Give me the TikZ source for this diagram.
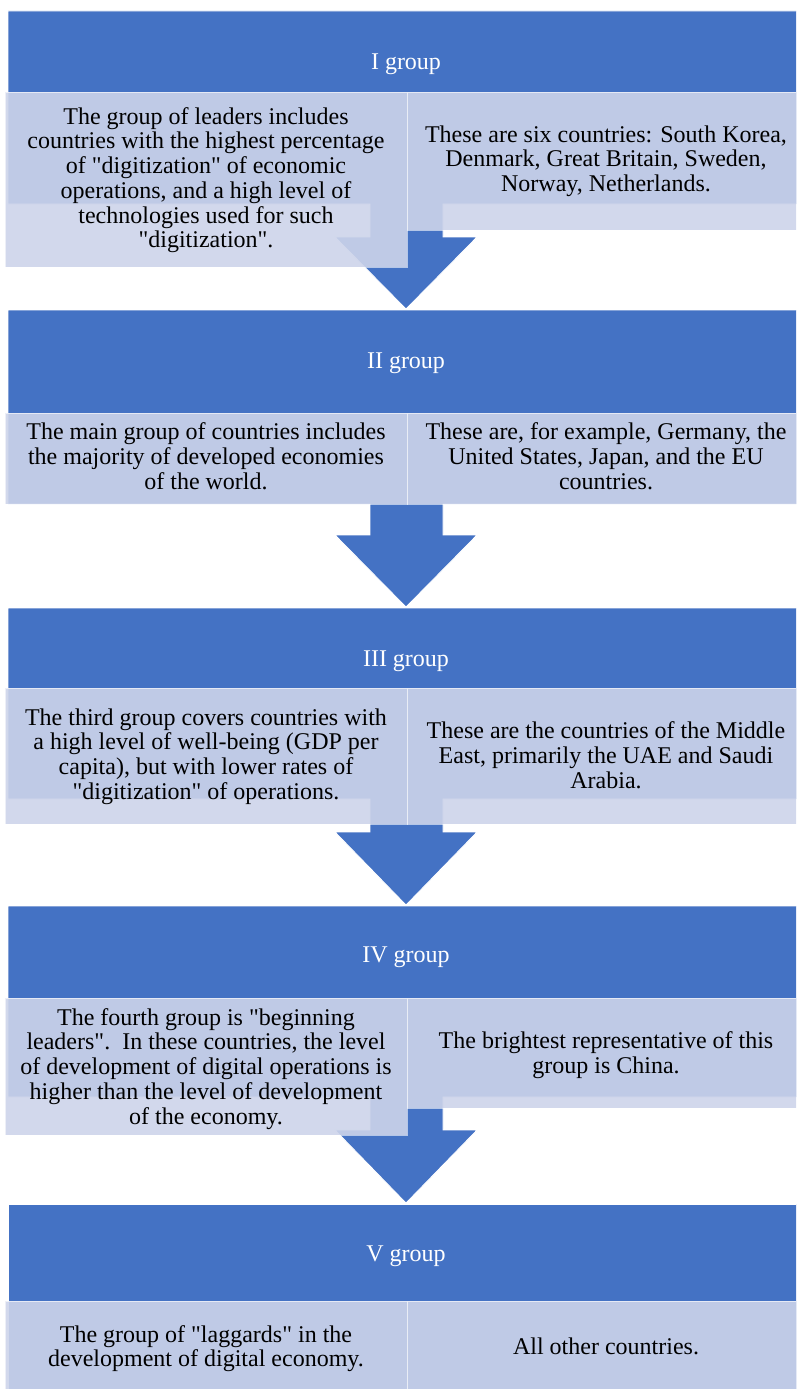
\documentclass[tikz,border=0pt]{standalone}
\usepackage{fontspec}
\setmainfont{Liberation Serif}[Ligatures=TeXOff]
\definecolor{hdrblue}{HTML}{4472C4}
\definecolor{cellfill}{HTML}{CDD4EA}
\newcommand{\bodysize}{\fontsize{24}{24.7}\selectfont}
% blue band of one group: header bar running into a down arrow
% #1 top, #2 bottom of the bar, #3 top of the arrow head, #4 tip
\newcommand{\flowshape}[4]{%
  \draw[flow] (8,#1) -- (806,#1) -- (806,#2) -- (443,#2) -- (443,#3)
    -- (477,#3) -- (406,#4) -- (335,#3) -- (370,#3) -- (370,#2)
    -- (8,#2) -- cycle;}

\begin{document}
\begin{tikzpicture}[x=1pt,y=-1pt,
  flow/.style={fill=hdrblue, draw=white, line width=0.8pt},
  cell/.style={rectangle, anchor=north west, inner sep=0, outer sep=0,
    fill=cellfill, fill opacity=0.9, draw=white, draw opacity=0.6,
    line width=0.8pt, minimum width=402},
  cellR/.style={cell, minimum width=400},
  celltext/.style={anchor=north, inner sep=0, align=center,
    font=\bodysize, text=black},
  headtext/.style={anchor=base, inner sep=0, font=\bodysize, text=white}]
\useasboundingbox (0,0) rectangle (796,1389);
\clip (0,0) rectangle (796,1389);

% blue bands with their arrows
\flowshape{11}{204}{237}{309}
\flowshape{310}{504}{535}{607}
\flowshape{608}{799}{832}{905}
\flowshape{906}{1097}{1130}{1203}
\draw[flow] (8,1204) rectangle (806,1400);

% group titles
\node[headtext] (h1) at (406,69.3) {I group};
\node[headtext] (h2) at (406,368) {II group};
\node[headtext] (h3) at (406,666) {III group};
\node[headtext] (h4) at (406,962) {IV group};
\node[headtext] (h5) at (406,1261.5) {V group};

% translucent cells
\node[cell, minimum height=175] (c1l) at (5,92) {};
\node[cellR, minimum height=138] (c1r) at (407,92) {};
\node[cell, minimum height=91] (c2l) at (5,413) {};
\node[cellR, minimum height=91] (c2r) at (407,413) {};
\node[cell, minimum height=136] (c3l) at (5,688) {};
\node[cellR, minimum height=136] (c3r) at (407,688) {};
\node[cell, minimum height=137] (c4l) at (5,998) {};
\node[cellR, minimum height=110] (c4r) at (407,998) {};
\node[cell, minimum height=100] (c5l) at (5,1301) {};
\node[cellR, minimum height=100] (c5r) at (407,1301) {};

% cell texts (placed by the baseline of the first line)
\node[celltext] (t1l) at (206,124-17.29) {\strut The group of leaders includes\\
  countries with the highest percentage\\ of "digitization" of economic\\
  operations, and a high level of\\ technologies used for such\\ "digitization".};
\node[celltext] (t1r) at (606,142-17.29) {\strut These are six countries: South Korea,\\
  Denmark, Great Britain, Sweden,\\ Norway, Netherlands.};
\node[celltext] (t2l) at (206,439.5-17.29) {\strut The main group of countries includes\\
  the majority of developed economies\\ of the world.};
\node[celltext] (t2r) at (606,439.5-17.29) {\strut These are, for example, Germany, the\\
  United States, Japan, and the EU\\ countries.};
\node[celltext] (t3l) at (206,725-17.29) {\strut The third group covers countries with\\
  a high level of well-being (GDP per\\ capita), but with lower rates of\\
  "digitization" of operations.};
\node[celltext] (t3r) at (606,738.5-17.29) {\strut These are the countries of the Middle\\
  East, primarily the UAE and Saudi\\ Arabia.};
\node[celltext] (t4l) at (206,1025-17.29) {\strut The fourth group is "beginning\\
  leaders".\ \ In these countries, the level\\ of development of digital operations is\\
  higher than the level of development\\ of the economy.};
\node[celltext] (t4r) at (606,1048.5-17.29) {\strut The brightest representative of this\\
  group is China.};
\node[celltext] (t5l) at (206,1342-17.29) {\strut The group of "laggards" in the\\
  development of digital economy.};
\node[celltext] (t5r) at (606,1354.5-17.29) {\strut All other countries.};
\end{tikzpicture}
\end{document}
